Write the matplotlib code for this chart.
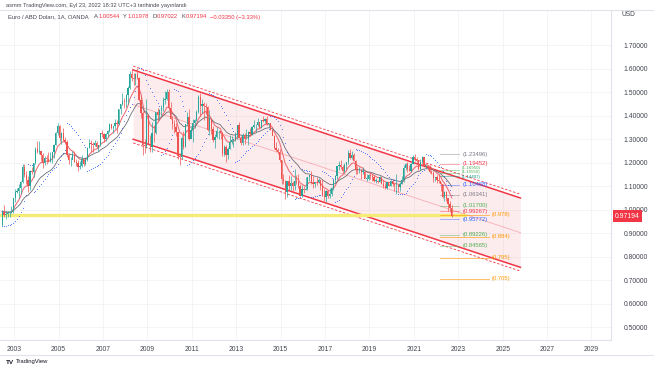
import numpy as np
import pandas as pd
import matplotlib
matplotlib.use("Agg")
import matplotlib.pyplot as plt

plt.rcParams["font.family"] = ["Liberation Sans", "DejaVu Sans"]

# EUR/USD monthly bars, first bar = Jun 2002
START_YEAR, START_MONTH = 2002, 6
first_open = 0.9320
closes = [
  0.9915, 0.9780, 0.9815, 0.9865, 0.9890, 0.9925, 1.0490,
  1.0765, 1.0775, 1.0910, 1.1180, 1.1795, 1.1485, 1.1245, 1.0985, 1.1645, 1.1590, 1.1975, 1.2595,
  1.2455, 1.2475, 1.2315, 1.1970, 1.2205, 1.2170, 1.2025, 1.2175, 1.2435, 1.2760, 1.3265, 1.3555,
  1.3040, 1.3255, 1.2965, 1.2875, 1.2300, 1.2100, 1.2125, 1.2340, 1.2025, 1.1985, 1.1790, 1.1840,
  1.2155, 1.1925, 1.2120, 1.2625, 1.2815, 1.2790, 1.2765, 1.2810, 1.2675, 1.2755, 1.3250, 1.3195,
  1.3015, 1.3230, 1.3355, 1.3650, 1.3450, 1.3540, 1.3690, 1.3635, 1.4265, 1.4485, 1.4630, 1.4590,
  1.4860, 1.5185, 1.5785, 1.5615, 1.5545, 1.5755, 1.5605, 1.4670, 1.4095, 1.2730, 1.2700, 1.3975,
  1.2800, 1.2665, 1.3245, 1.3240, 1.4150, 1.4030, 1.4250, 1.4335, 1.4640, 1.4720, 1.5000, 1.4325,
  1.3865, 1.3630, 1.3510, 1.3290, 1.2280, 1.2235, 1.3050, 1.2680, 1.3630, 1.3925, 1.2985, 1.3385,
  1.3695, 1.3805, 1.4165, 1.4805, 1.4395, 1.4500, 1.4390, 1.4370, 1.3390, 1.3855, 1.3445, 1.2960,
  1.3085, 1.3320, 1.3340, 1.3235, 1.2370, 1.2665, 1.2300, 1.2575, 1.2860, 1.2960, 1.2985, 1.3190,
  1.3580, 1.3060, 1.2815, 1.3170, 1.2995, 1.3010, 1.3300, 1.3220, 1.3525, 1.3585, 1.3590, 1.3745,
  1.3485, 1.3805, 1.3770, 1.3870, 1.3635, 1.3690, 1.3390, 1.3130, 1.2630, 1.2525, 1.2450, 1.2100,
  1.1290, 1.1195, 1.0730, 1.1225, 1.0985, 1.1145, 1.0985, 1.1210, 1.1175, 1.1005, 1.0565, 1.0860,
  1.0830, 1.0875, 1.1380, 1.1455, 1.1130, 1.1105, 1.1175, 1.1155, 1.1240, 1.0980, 1.0590, 1.0520,
  1.0800, 1.0575, 1.0650, 1.0895, 1.1240, 1.1425, 1.1840, 1.1910, 1.1815, 1.1645, 1.1905, 1.2005,
  1.2415, 1.2195, 1.2320, 1.2080, 1.1695, 1.1685, 1.1690, 1.1600, 1.1605, 1.1310, 1.1315, 1.1465,
  1.1445, 1.1370, 1.1215, 1.1215, 1.1170, 1.1370, 1.1075, 1.0985, 1.0900, 1.1150, 1.1015, 1.1215,
  1.1095, 1.1025, 1.1030, 1.0955, 1.1100, 1.1235, 1.1775, 1.1935, 1.1720, 1.1645, 1.1925, 1.2215,
  1.2135, 1.2075, 1.1730, 1.2020, 1.2225, 1.1855, 1.1870, 1.1805, 1.1580, 1.1560, 1.1335, 1.1370,
  1.1235, 1.1220, 1.1065, 1.0545, 1.0735, 1.0485, 1.0220, 1.0055, 0.97194,
]
highs = [
  0.9990, 1.0190, 0.9920, 0.9940, 0.9920, 1.0140, 1.0500,
  1.0870, 1.0935, 1.1080, 1.1230, 1.1935, 1.1930, 1.1640, 1.1430, 1.1670, 1.1810, 1.2000, 1.2650,
  1.2930, 1.2900, 1.2450, 1.2385, 1.2290, 1.2320, 1.2440, 1.2430, 1.2440, 1.2800, 1.3310, 1.3665,
  1.3580, 1.3290, 1.3480, 1.3090, 1.2950, 1.2410, 1.2230, 1.2480, 1.2500, 1.2165, 1.2110, 1.2050,
  1.2300, 1.2170, 1.2220, 1.2650, 1.2980, 1.2950, 1.2890, 1.2940, 1.2920, 1.2760, 1.3270, 1.3370,
  1.3270, 1.3250, 1.3380, 1.3680, 1.3610, 1.3550, 1.3850, 1.3800, 1.4280, 1.4500, 1.4970, 1.4750,
  1.4900, 1.5240, 1.5900, 1.6020, 1.5810, 1.5800, 1.6038, 1.5630, 1.4860, 1.4200, 1.3010, 1.4720,
  1.4060, 1.3150, 1.3740, 1.3540, 1.4170, 1.4340, 1.4280, 1.4450, 1.4800, 1.5060, 1.5140, 1.5140,
  1.4580, 1.3960, 1.3820, 1.3690, 1.3300, 1.2390, 1.3110, 1.3330, 1.3650, 1.4160, 1.4280, 1.3500,
  1.3860, 1.3860, 1.4250, 1.4880, 1.4940, 1.4700, 1.4580, 1.4550, 1.4400, 1.4250, 1.3870, 1.3550,
  1.3230, 1.3490, 1.3390, 1.3290, 1.3280, 1.2750, 1.2750, 1.2640, 1.3170, 1.3140, 1.3010, 1.3310,
  1.3590, 1.3710, 1.3110, 1.3240, 1.3240, 1.3420, 1.3340, 1.3450, 1.3570, 1.3830, 1.3620, 1.3890,
  1.3740, 1.3830, 1.3970, 1.3900, 1.3990, 1.3700, 1.3700, 1.3440, 1.3150, 1.2890, 1.2610, 1.2560,
  1.2110, 1.1530, 1.1240, 1.1220, 1.1470, 1.1440, 1.1220, 1.1710, 1.1460, 1.1500, 1.1090, 1.1060,
  1.0990, 1.1380, 1.1400, 1.1460, 1.1620, 1.1430, 1.1190, 1.1370, 1.1330, 1.1240, 1.1300, 1.0870,
  1.0830, 1.0830, 1.0910, 1.0950, 1.1270, 1.1450, 1.1780, 1.2070, 1.2090, 1.1880, 1.1960, 1.2020,
  1.2530, 1.2560, 1.2480, 1.2410, 1.2100, 1.1850, 1.1790, 1.1730, 1.1820, 1.1630, 1.1500, 1.1490,
  1.1570, 1.1490, 1.1450, 1.1320, 1.1260, 1.1410, 1.1290, 1.1250, 1.1110, 1.1180, 1.1100, 1.1240,
  1.1240, 1.1100, 1.1500, 1.1000, 1.1150, 1.1420, 1.1910, 1.1970, 1.2010, 1.1880, 1.2000, 1.2310,
  1.2350, 1.2240, 1.2110, 1.2150, 1.2270, 1.2250, 1.1910, 1.1900, 1.1910, 1.1690, 1.1620, 1.1390,
  1.1480, 1.1500, 1.1190, 1.1080, 1.0790, 1.0770, 1.0280, 1.0370, 1.01978,
]
lows = [
  0.9290, 0.9700, 0.9610, 0.9670, 0.9690, 0.9860, 0.9860,
  1.0335, 1.0690, 1.0500, 1.0640, 1.1135, 1.1390, 1.1100, 1.0765, 1.0850, 1.1500, 1.1400, 1.1930,
  1.2395, 1.2360, 1.2080, 1.1760, 1.1900, 1.1930, 1.2015, 1.2030, 1.2000, 1.2190, 1.2745, 1.3170,
  1.2930, 1.2780, 1.2910, 1.2780, 1.2255, 1.1955, 1.1870, 1.2130, 1.2010, 1.1865, 1.1640, 1.1710,
  1.1830, 1.1860, 1.1900, 1.2080, 1.2600, 1.2450, 1.2460, 1.2700, 1.2620, 1.2480, 1.2700, 1.3070,
  1.2870, 1.2930, 1.3070, 1.3300, 1.3410, 1.3260, 1.3440, 1.3260, 1.3610, 1.4070, 1.4430, 1.4320,
  1.4360, 1.4500, 1.5140, 1.5480, 1.5300, 1.5290, 1.5570, 1.4610, 1.3880, 1.2330, 1.2420, 1.2630,
  1.2770, 1.2460, 1.2460, 1.2890, 1.3210, 1.3750, 1.3830, 1.4000, 1.4210, 1.4480, 1.4640, 1.4210,
  1.3860, 1.3440, 1.3270, 1.3110, 1.2150, 1.1880, 1.2160, 1.2590, 1.2640, 1.3600, 1.2970, 1.3070,
  1.2860, 1.3450, 1.3750, 1.4110, 1.3970, 1.4100, 1.3830, 1.4050, 1.3360, 1.3150, 1.3200, 1.2860,
  1.2620, 1.3030, 1.3000, 1.3000, 1.2290, 1.2290, 1.2040, 1.2130, 1.2560, 1.2800, 1.2660, 1.2920,
  1.3000, 1.3040, 1.2750, 1.2750, 1.2800, 1.2990, 1.2760, 1.3130, 1.3180, 1.3480, 1.3300, 1.3550,
  1.3480, 1.3470, 1.3730, 1.3690, 1.3590, 1.3500, 1.3370, 1.3150, 1.2570, 1.2500, 1.2360, 1.2040,
  1.1100, 1.1100, 1.0460, 1.0520, 1.0820, 1.0820, 1.0800, 1.0850, 1.1100, 1.0900, 1.0560, 1.0520,
  1.0710, 1.0810, 1.0820, 1.1210, 1.1100, 1.0910, 1.0950, 1.1040, 1.1120, 1.0850, 1.0570, 1.0350,
  1.0340, 1.0490, 1.0490, 1.0570, 1.0840, 1.1120, 1.1310, 1.1660, 1.1720, 1.1570, 1.1550, 1.1720,
  1.1920, 1.2150, 1.2150, 1.2070, 1.1510, 1.1510, 1.1570, 1.1300, 1.1530, 1.1330, 1.1220, 1.1270,
  1.1290, 1.1230, 1.1180, 1.1110, 1.1110, 1.1180, 1.1100, 1.0930, 1.0880, 1.0880, 1.0980, 1.0980,
  1.0990, 1.0780, 1.0640, 1.0730, 1.0770, 1.1100, 1.1190, 1.1700, 1.1610, 1.1620, 1.1600, 1.1920,
  1.2050, 1.1950, 1.1700, 1.1700, 1.1990, 1.1840, 1.1750, 1.1660, 1.1560, 1.1520, 1.1190, 1.1220,
  1.1120, 1.1110, 1.0800, 1.0470, 1.0350, 1.0360, 0.9950, 0.9900, 0.97022,
]

fib_levels = [1.23496, 1.19452, 1.16950, 1.15550, 1.14407, 1.10468, 1.06341,
              1.01700, 0.99267, 0.95772, 0.89226, 0.84565]
fib_colors = ["#787b86", "#f23645", "#4caf50", "#4caf50", "#089981", "#2962ff", "#787b86",
              "#4caf50", "#f23645", "#2962ff", "#4caf50", "#4caf50"]
target_levels = [0.978, 0.884, 0.795, 0.705]
support_level = 0.975
channel_x = [2008.36, 2025.8]
channel_top = [1.594, 1.049]
channel_width = 0.295
year_ticks = list(range(2003, 2030, 2))
price_ticks = [0.5, 0.6, 0.7, 0.8, 0.9, 1.0, 1.1, 1.2, 1.3, 1.4, 1.5, 1.6, 1.7]
last_price = 0.97194
legend_title = "Euro / ABD Doları, 1A, OANDA"
legend_parts = [("A", "1.00544"), ("Y", "1.01978"), ("D", "0.97022"), ("K", "0.97194"),
                ("", "−0.03350 (−3.33%)")]

UP = "#26a69a"
DOWN = "#ef5350"
RED = "#f23645"
TXT = "#434651"


def parabolic_sar(high, low, step=0.02, max_step=0.2):
  n = len(high)
  sar = np.zeros(n)
  up = True
  af = step
  ep = high[0]
  sar[0] = low[0]
  for i in range(1, n):
    s = sar[i - 1] + af * (ep - sar[i - 1])
    if up:
      s = min(s, low[i - 1], low[max(i - 2, 0)])
      if low[i] < s:
        up, s, ep, af = False, ep, low[i], step
      elif high[i] > ep:
        ep, af = high[i], min(af + step, max_step)
    else:
      s = max(s, high[i - 1], high[max(i - 2, 0)])
      if high[i] > s:
        up, s, ep, af = True, ep, high[i], step
      elif low[i] < ep:
        ep, af = low[i], min(af + step, max_step)
    sar[i] = s
  return sar


close = np.array(closes)
high = np.array(highs)
low = np.array(lows)
opens = np.concatenate([[first_open], close[:-1]])
n = len(close)
t = START_YEAR + (START_MONTH - 1 + np.arange(n) + 0.5) / 12.0

fig = plt.figure(figsize=(6.54, 3.66), dpi=100)
fig.patch.set_facecolor("white")
ax = fig.add_axes([0.0, 1 - 340 / 366, 611 / 654, 330 / 366])
X0, X1 = 2002.36, 2029.88
ax.set_xlim(X0, X1)
ax.set_ylim(0.4447, 1.849)

ax.grid(True, color="#f2f3f6", lw=0.6)
ax.set_axisbelow(True)

# channel
cx = np.array(channel_x)
top = np.array(channel_top)
bot = top - channel_width
ax.fill_between(cx, top, bot, color=RED, alpha=0.09, lw=0, zorder=1)
ax.plot(cx, top, color=RED, lw=1.1, zorder=2)
ax.plot(cx, bot, color=RED, lw=1.1, zorder=2)
ax.plot(cx, top + 0.016, color=RED, lw=0.6, ls=(0, (3, 2)), zorder=2)
ax.plot(cx, bot - 0.016, color=RED, lw=0.6, ls=(0, (3, 2)), zorder=2)
ax.plot(cx, top - channel_width / 2, color=RED, lw=0.6, alpha=0.35, zorder=2)

# support line
ax.plot([X0, 2023.3], [support_level] * 2, color="#f5ec78", lw=2.4, zorder=2)

# moving averages
s = pd.Series(close)
ax.plot(t, s.ewm(span=9, adjust=False).mean(), color="#ef6a72", lw=0.75, zorder=3)
ax.plot(t, s.ewm(span=21, adjust=False).mean(), color="#6b6e78", lw=0.6, zorder=3)

# parabolic sar
ax.scatter(t, parabolic_sar(high, low), s=0.35, color="#2962ff", lw=0, zorder=3)

# candles
col = np.where(close >= opens, UP, DOWN)
ax.vlines(t, low, high, colors=col, lw=0.5, zorder=4)
ax.bar(t, np.maximum(np.abs(close - opens), 0.002), bottom=np.minimum(opens, close),
       width=0.055, color=col, lw=0, zorder=5)

# fibonacci levels (the three green ones sit very close, spread their labels a little)
label_y = {1.16950: 1.1750, 1.15550: 1.1575, 1.14407: 1.1400}
for lv, c in zip(fib_levels, fib_colors):
  ax.plot([2022.2, 2023.05], [lv, lv], color=c, lw=0.5, alpha=0.6, zorder=3)
  fs = 3.2 if lv in label_y else 4.2
  ax.text(2023.18, label_y.get(lv, lv), f"({lv:.5f})", color=c, fontsize=fs,
          va="center", ha="left", zorder=6)
for lv in target_levels:
  ax.plot([2022.2, 2024.4], [lv, lv], color="#ff9800", lw=0.6, alpha=0.7, zorder=3)
  ax.text(2024.52, lv, f"({lv:g})", color="#ff9800", fontsize=4.2, va="center", ha="left", zorder=6)

# axes styling
for side in ["left", "top"]:
  ax.spines[side].set_visible(False)
for side in ["right", "bottom"]:
  ax.spines[side].set_color("#e0e3eb")
  ax.spines[side].set_linewidth(0.8)
ax.yaxis.tick_right()
ax.set_yticks(price_ticks)
ax.set_yticklabels([f"{p:.5f}" for p in price_ticks])
ax.set_xticks(year_ticks)
ax.set_xticklabels([str(y) for y in year_ticks])
ax.tick_params(axis="both", length=0, labelsize=4.9, labelcolor=TXT)
ax.tick_params(axis="y", pad=9)
ax.tick_params(axis="x", pad=4.5)

ax.annotate(f"{last_price:.5f}", xy=(1.0, last_price), xycoords=("axes fraction", "data"),
            xytext=(3, 0), textcoords="offset points", ha="left", va="center",
            fontsize=4.9, color="white",
            bbox=dict(boxstyle="square,pad=0.35", fc=RED, ec="none"))
fig.text(621 / 654, 1 - 15 / 366, "USD", fontsize=4.8, color=TXT, va="center")

# frame lines
fig.add_artist(plt.Line2D([0, 1], [1 - 355 / 366] * 2, color="#e0e3eb", lw=0.8))
fig.add_artist(plt.Line2D([0, 1], [1 - 10 / 366] * 2, color="#e0e3eb", lw=0.8))

# header
fig.text(6 / 654, 1 - 5 / 366, "asmm TradingView.com, Eyl 23, 2022 18:32 UTC+3 tarihinde yayınlandı",
         fontsize=4.1, color=TXT, va="center")

# legend built as a chain of annotations, each placed right of the previous one
prev = fig.text(8 / 654, 1 - 17 / 366, legend_title, fontsize=4.2, color=TXT, va="center")
for i, (lab, val) in enumerate(legend_parts):
  gap = 4 if i == 0 else 2.5
  if lab:
    prev = ax.annotate(lab, xy=(1, 0.5), xycoords=prev, xytext=(gap, 0),
                       textcoords="offset points", va="center", ha="left",
                       fontsize=4.2, color=TXT, annotation_clip=False)
    gap = 0.2
  prev = ax.annotate(val, xy=(1, 0.5), xycoords=prev, xytext=(gap, 0), textcoords="offset points",
                     va="center", ha="left", fontsize=4.2, color=RED, annotation_clip=False)

# footer logo
logo = fig.text(6 / 654, 1 - 362 / 366, "TV", fontsize=4.6, weight="bold", color="#131722", va="center")
ax.annotate("TradingView", xy=(1, 0.5), xycoords=logo, xytext=(1.5, 0), textcoords="offset points",
            va="center", ha="left", fontsize=4.2, color="#131722", annotation_clip=False)

plt.savefig("out.png", dpi=100)
